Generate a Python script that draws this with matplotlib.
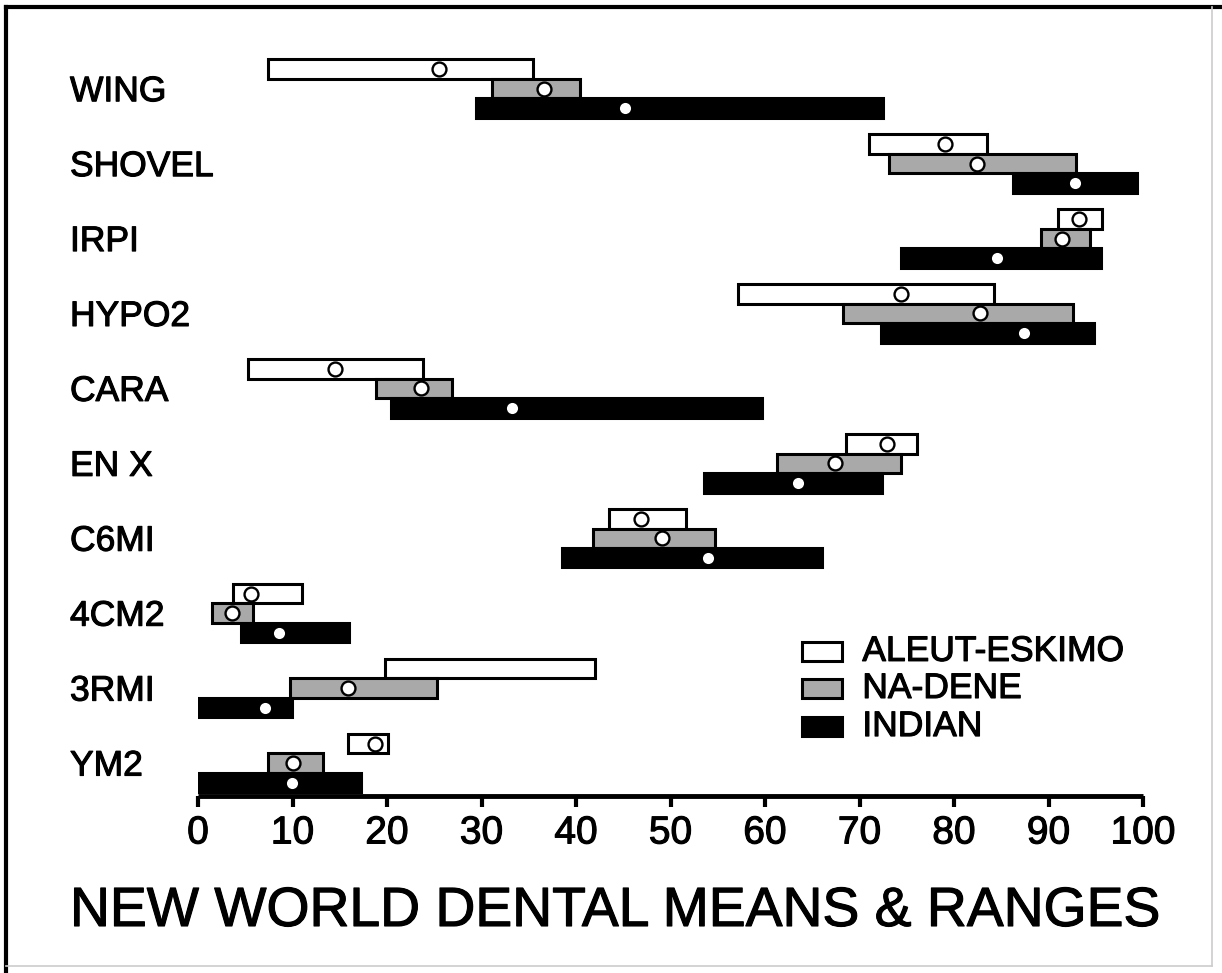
import matplotlib
matplotlib.use("Agg")
import matplotlib.pyplot as plt
import matplotlib.transforms as mtransforms
import matplotlib.patheffects as pe
import numpy as np
from matplotlib.patches import Rectangle
from matplotlib.lines import Line2D

plt.rcParams['font.family'] = ['Liberation Sans', 'DejaVu Sans']

traits = ["WING", "SHOVEL", "IRPI", "HYPO2", "CARA", "EN X", "C6MI", "4CM2", "3RMI", "YM2"]

aleut_lo   = [7.4, 71.0, 91.0, 57.1, 5.3, 68.6, 43.5, 3.7, 19.8, 15.9]
aleut_hi   = [35.4, 83.5, 95.7, 84.2, 23.8, 76.1, 51.6, 11.0, 42.0, 20.1]
aleut_mean = [25.5, 79.0, 93.2, 74.4, 14.5, 72.9, 46.9, 5.6, np.nan, 18.7]

nadene_lo   = [31.1, 73.1, 89.2, 68.3, 18.8, 61.3, 41.8, 1.5, 9.7, 7.4]
nadene_hi   = [40.4, 92.9, 94.4, 92.6, 26.9, 74.4, 54.7, 5.8, 25.3, 13.2]
nadene_mean = [36.6, 82.4, 91.4, 82.8, 23.6, 67.4, 49.1, 3.6, 15.9, 10.1]

indian_lo   = [29.4, 86.2, 74.4, 72.3, 20.4, 53.5, 38.5, 4.6, 0.0, 0.0]
indian_hi   = [72.5, 99.4, 95.6, 94.8, 59.7, 72.4, 66.0, 16.0, 9.9, 17.2]
indian_mean = [45.2, 92.8, 84.5, 87.4, 33.2, 63.5, 54.0, 8.6, 7.1, 9.9]

groups = ["ALEUT-ESKIMO", "NA-DENE", "INDIAN"]
xticks = [0, 10, 20, 30, 40, 50, 60, 70, 80, 90, 100]

W, H = 1222, 973
fig = plt.figure(figsize=(W / 100, H / 100), dpi=100)
fig.patch.set_facecolor('white')

heavy = [pe.withStroke(linewidth=0.8, foreground='black')]

# axes placement in pixels
ax_left, ax_right, ax_bottom_px, ax_top_px = 198, 1143, 796, 40
ax = fig.add_axes([ax_left / W, 1 - ax_bottom_px / H,
                   (ax_right - ax_left) / W, (ax_bottom_px - ax_top_px) / H])
ax.set_xlim(0, 100)
ax.set_ylim(-0.44, 9.65)
ax.patch.set_alpha(0)

n = len(traits)
ypos = np.arange(n)[::-1].astype(float)
off = 0.26
bh = 0.26

styles = [
    dict(fc='white', ec='black'),
    dict(fc='#a9a9a9', ec='black'),
    dict(fc='black', ec='black'),
]
los = [aleut_lo, nadene_lo, indian_lo]
his = [aleut_hi, nadene_hi, indian_hi]
means = [aleut_mean, nadene_mean, indian_mean]
offsets = [off, 0.0, -off]

for g in range(3):
    lo = np.array(los[g]); hi = np.array(his[g])
    yy = ypos + offsets[g]
    ax.barh(yy, hi - lo, left=lo, height=bh, color=styles[g]['fc'],
            edgecolor=styles[g]['ec'], linewidth=2.2, zorder=2 + g)
    m = np.array(means[g])
    if g < 2:
        ax.plot(m, yy, 'o', ms=10, mfc='white', mec='black', mew=1.7,
                ls='none', zorder=10)
    else:
        ax.plot(m, yy, 'o', ms=8, mfc='white', mec='white', mew=0,
                ls='none', zorder=10)

# row labels
lab_tr = mtransforms.blended_transform_factory(fig.transFigure, ax.transData)
for lab, y in zip(traits, ypos):
    ax.text(70 / W, y - 0.04, lab, transform=lab_tr,
            ha='left', va='center', fontsize=25.5, color='black', path_effects=heavy)

# spines / ticks
for s in ['top', 'right', 'left']:
    ax.spines[s].set_visible(False)
ax.spines['bottom'].set_linewidth(3.5)
ax.spines['bottom'].set_capstyle('butt')
ax.set_yticks([])
ax.set_xticks(xticks)
ax.set_xticklabels([str(t) for t in xticks])
ax.tick_params(axis='x', direction='out', length=8, width=3, labelsize=28, pad=6)
for t in ax.get_xticklabels():
    t.set_path_effects(heavy)

# legend (manual)
leg_x0, leg_w = 63.9, 4.3
leg_y = [1.49, 0.995, 0.487]
for g in range(3):
    ax.add_patch(Rectangle((leg_x0, leg_y[g] - 0.125), leg_w, 0.25,
                           facecolor=styles[g]['fc'], edgecolor='black',
                           linewidth=2.2, zorder=5))
    ax.text(70.3, leg_y[g], groups[g], ha='left', va='center', fontsize=25.5,
            zorder=5, path_effects=heavy)

# title
fig.text(70 / W, 1 - 912 / H, "NEW WORLD DENTAL MEANS & RANGES",
         ha='left', va='center', fontsize=39.8, path_effects=heavy)

# frame
fig.add_artist(Line2D([6 / W, 1.0], [1 - 7 / H, 1 - 7 / H], transform=fig.transFigure,
                      color='black', lw=3))
fig.add_artist(Line2D([6 / W, 6 / W], [1 - 7 / H, 0.0], transform=fig.transFigure,
                      color='black', lw=3))
fig.add_artist(Line2D([1212 / W, 1212 / W], [1 - 7 / H, 1 - 966 / H], transform=fig.transFigure,
                      color='#cccccc', lw=1.2))
fig.add_artist(Line2D([6 / W, 1212 / W], [1 - 966 / H, 1 - 966 / H], transform=fig.transFigure,
                      color='#cccccc', lw=1.2))

fig.savefig("out.png", dpi=100, facecolor='white')
